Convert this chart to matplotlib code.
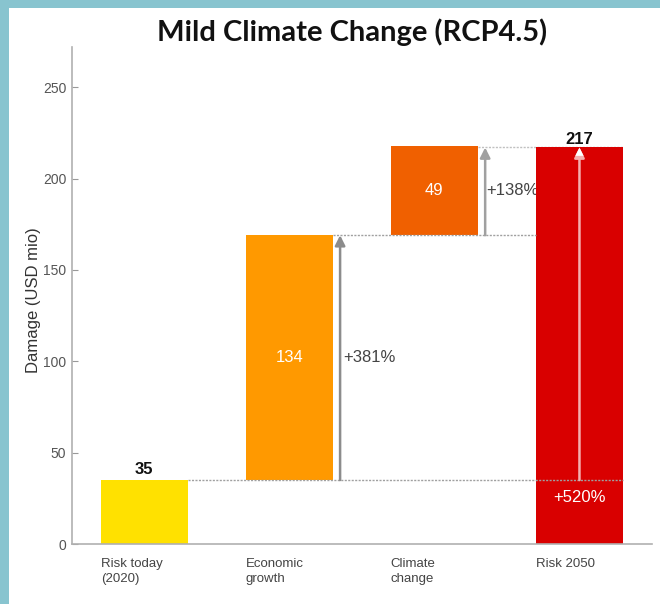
import matplotlib
matplotlib.use("Agg")
import matplotlib.pyplot as plt
from matplotlib.patches import Rectangle

plt.rcParams['font.family'] = ['Liberation Sans', 'DejaVu Sans']

# data
categories = ['Risk today\n(2020)', 'Economic\ngrowth', 'Climate\nchange', 'Risk 2050']
values = [35, 134, 49, 217]
bottoms = [0, 35, 169, 0]
colors = ['#FFE100', '#FF9900', '#F06000', '#D90000']
pct_labels = ['+381%', '+138%', '+520%']

fig = plt.figure(figsize=(6.6, 6.04), dpi=100)
fig.patch.set_facecolor('#88C4CF')
fig.patches.append(Rectangle((8.5 / 660, 0), 1, (604 - 8) / 604, transform=fig.transFigure,
                             facecolor='white', edgecolor='none', zorder=-5))

ax = fig.add_axes([71.7 / 660, 60 / 604, (652 - 71.7) / 660, (544 - 47) / 604])
ax.set_zorder(2)
ax.set_facecolor('none')

x = list(range(len(categories)))
w = 0.6
ax.bar(x, values, width=w, bottom=bottoms, color=colors, zorder=2)

# dotted connector lines
tot = values[-1]
ax.plot([0 + w / 2, 3 + w / 2], [values[0], values[0]], ls=(0, (1.5, 1)), color='#a0a0a0', lw=1, zorder=3)
ax.plot([1 + w / 2, 3 - w / 2], [bottoms[2], bottoms[2]], ls=(0, (1.5, 1)), color='#a0a0a0', lw=1, zorder=3)
ax.plot([2 + w / 2, 3 + w / 2], [tot, tot], ls=(0, (1.5, 1)), color='#c0c0c0', lw=1, zorder=1)

# arrows
grey = '#8c8c8c'
ax.annotate('', xy=(1.35, bottoms[2]), xytext=(1.35, values[0]),
            arrowprops=dict(arrowstyle='-|>', color=grey, lw=1.8, mutation_scale=15, shrinkA=0, shrinkB=0), zorder=4)
ax.annotate('', xy=(2.35, tot), xytext=(2.35, bottoms[2]),
            arrowprops=dict(arrowstyle='-|>', color='#a0a0a0', lw=1.8, mutation_scale=15, shrinkA=0, shrinkB=0), zorder=4)
ax.annotate('', xy=(3, tot), xytext=(3, values[0]),
            arrowprops=dict(arrowstyle='-|>', color='#f4b0b0', lw=1.8, mutation_scale=15, shrinkA=0, shrinkB=0), zorder=4)
ax.annotate('', xy=(3, tot), xytext=(3, tot - 8),
            arrowprops=dict(arrowstyle='-|>', color='white', lw=0, mutation_scale=15, shrinkA=0, shrinkB=0), zorder=5)

# value labels
fs = 12
ax.text(0, values[0] + 1.5, str(values[0]), ha='center', va='bottom', fontsize=fs, fontweight='bold', color='#111111')
ax.text(3, tot + 0.5, str(tot), ha='center', va='bottom', fontsize=fs, fontweight='bold', color='#111111')
ax.text(1, bottoms[1] + values[1] / 2, str(values[1]), ha='center', va='center', fontsize=fs, color='white')
ax.text(2, bottoms[2] + values[2] / 2, str(values[2]), ha='center', va='center', fontsize=fs, color='white')

ax.text(1.37, bottoms[1] + values[1] / 2, pct_labels[0], ha='left', va='center', fontsize=fs, color='#444444')
ax.text(2.36, bottoms[2] + values[2] / 2, pct_labels[1], ha='left', va='center', fontsize=fs, color='#444444', zorder=1)
ax.text(3, 25.5, pct_labels[2], ha='center', va='center', fontsize=fs, color='white', zorder=5)

ax.set_xlim(-0.5, 3.5)
ax.set_ylim(0, 272)
ax.set_yticks([0, 50, 100, 150, 200, 250])
ax.set_xticks([i - w / 2 for i in x])
ax.set_xticklabels(categories, ha='left', fontsize=9.5, color='#444444', linespacing=1.4)
ax.tick_params(axis='x', length=0, pad=10)
ax.tick_params(axis='y', direction='in', length=4, color='#999999', labelsize=10, labelcolor='#555555', pad=4)

for s in ['top', 'right']:
    ax.spines[s].set_visible(False)
for s in ['left', 'bottom']:
    ax.spines[s].set_color('#b0b0b0')
    ax.spines[s].set_linewidth(1.2)

ax.set_ylabel('Damage (USD mio)', fontsize=12, color='#333333')
ax.yaxis.set_label_coords(-0.053, 0.49)

fig.text(352 / 660, 1 - 32 / 604, 'Mild Climate Change (RCP4.5)', ha='center', va='center',
         fontsize=21, fontweight='bold', family=['Lato', 'DejaVu Sans'], color='#111111')

fig.savefig('out.png', dpi=100, facecolor=fig.get_facecolor())
